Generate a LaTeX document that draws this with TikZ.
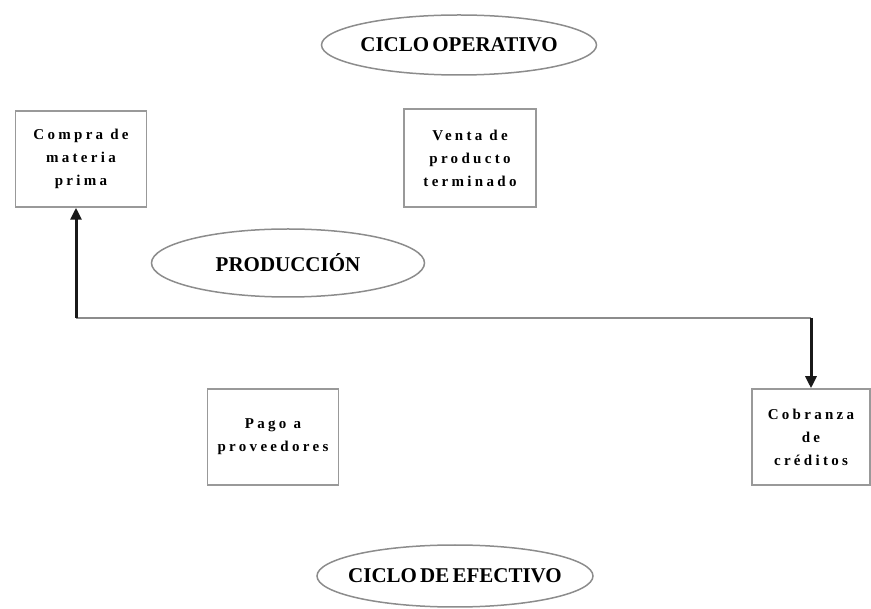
\documentclass[tikz,border=0pt]{standalone}
\usepackage{fontspec}
\setmainfont{Liberation Serif}
\newfontfamily\tightfont{Liberation Serif}[WordSpace=0.6]
\usepackage{tikz}
\usetikzlibrary{arrows.meta, positioning, shapes.geometric}

\begin{document}
\begin{tikzpicture}[
  x=1pt, y=-1pt,
  stage/.style={rectangle, draw=black!40, line width=1.5pt, fill=white,
                minimum width=131pt, minimum height=96pt, align=center,
                font=\fontsize{15}{23}\selectfont\bfseries\addfontfeatures{LetterSpace=22}},
  cycle/.style={ellipse, draw=black!45, line width=1.5pt, inner xsep=-40pt, inner ysep=0pt,
                font=\tightfont\fontsize{21}{24}\selectfont\bfseries},
  link/.style={draw=black!45, line width=1.5pt},
  arrow/.style={-{Triangle[length=12pt, width=11pt]}, line width=3pt, black!90}
]
  \useasboundingbox (0,0) rectangle (871,609);

  \node[cycle, minimum width=275pt, minimum height=60pt] (oper) at (459,45) {CICLO OPERATIVO};
  \node[cycle, minimum width=273pt, minimum height=68pt] (prod) at (288,263) {PRODUCCIÓN};
  \node[cycle, minimum width=276pt, minimum height=62pt] (efec) at (455,576) {CICLO DE EFECTIVO};

  \node[stage] (compra) at (81,159) {Compra de\\materia\\prima};
  \node[stage, minimum width=132pt, minimum height=98pt] (venta) at (470,158) {Venta de\\producto\\terminado};
  \node[stage] (pago) at (273,437) {Pago a\\proveedores};
  \node[stage, minimum width=118pt] (cobro) at (811,437) {Cobranza\\de\\créditos};

  % connector from the lower line back to both ends
  \coordinate (left)  at (76,318);
  \coordinate (right) at (811,318);
  \draw[link] (left) -- (right);
  \draw[arrow] (left) -- (left |- compra.south);
  \draw[arrow] (right) -- (cobro.north);
\end{tikzpicture}
\end{document}
